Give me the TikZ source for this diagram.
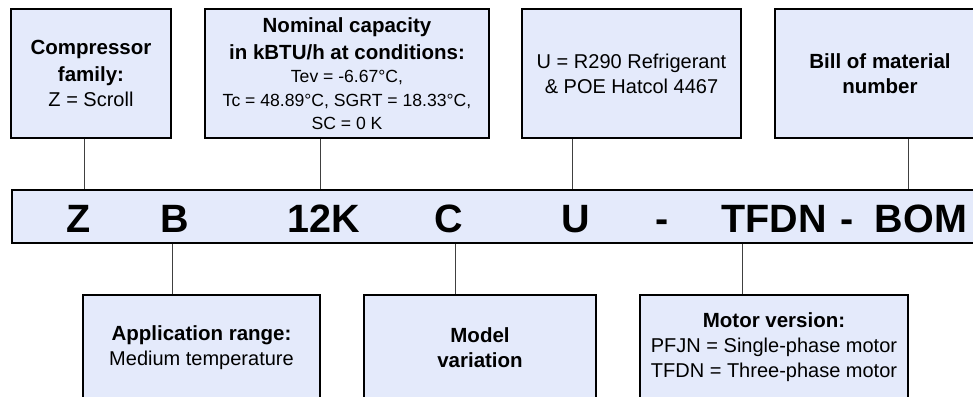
\documentclass[tikz,border=0pt]{standalone}
\usepackage{fontspec}
\setmainfont{Liberation Sans}
\definecolor{boxfill}{RGB}{228,234,251}
\newcommand\boldtxt{\fontsize{20.5}{25}\selectfont\bfseries}
\newcommand\regtxt{\fontsize{20}{25}\selectfont\mdseries}
\newcommand\smalltxt{\fontsize{17.6}{23.5}\selectfont\mdseries}
\newcommand\smallbold{\fontsize{20.5}{23.5}\selectfont\bfseries}
\tikzset{
  infobox/.style={draw=black, line width=1.8pt, fill=boxfill, align=center, inner sep=2pt, font=\regtxt},
  codetxt/.style={font=\fontsize{39.5}{40}\selectfont\bfseries, anchor=base, inner sep=0pt},
  link/.style={draw=black!75, line width=1pt},
}
\begin{document}
\begin{tikzpicture}[x=1pt,y=-1pt]
\useasboundingbox (0,0) rectangle (973,396);
\clip (0,0) rectangle (973,396);
\fill[white] (0,0) rectangle (973,396);

% connector positions
\coordinate (pZ) at (84,0);
\coordinate (pB) at (172,0);
\coordinate (pK) at (320,0);
\coordinate (pC) at (455,0);
\coordinate (pU) at (572,0);
\coordinate (pT) at (742,0);
\coordinate (pM) at (908,0);

% code bar
\node[infobox, minimum width=978pt, minimum height=53pt] (bar) at (501,216.5) {};
\node[codetxt] (cZ) at (79,232) {Z};
\node[codetxt] (cB) at (175,232) {B};
\node[codetxt] (cK) at (324,232) {12K};
\node[codetxt] (cC) at (449,232) {C};
\node[codetxt] (cU) at (576,232) {U};
\node[codetxt] (cD1) at (662,232) {-};
\node[codetxt] (cT) at (774,232) {TFDN};
\node[codetxt] (cD2) at (847,232) {-};
\node[codetxt] (cM) at (921,232) {BOM};

% top boxes
\node[infobox, minimum width=160pt, minimum height=129pt] (family) at (91,73.5)
  {\boldtxt Compressor\\[2pt] \boldtxt family:\\ Z = Scroll};
\node[infobox, font=\smalltxt, minimum width=284pt, minimum height=129pt] (capacity) at (347,73.5)
  {\smallbold Nominal capacity\\[3.5pt] \smallbold in kBTU/h at conditions:\\ Tev = -6.67°C,\\ Tc = 48.89°C, SGRT = 18.33°C,\\ SC = 0 K};
\node[infobox, minimum width=219pt, minimum height=129pt] (refrig) at (631.5,73.5)
  {U = R290 Refrigerant\\ \& POE Hatcol 4467};
\node[infobox, minimum width=210pt, minimum height=129pt] (bom) at (880,73.5)
  {\boldtxt Bill of material\\ \boldtxt number};

% bottom boxes
\node[infobox, minimum width=237pt, minimum height=105pt] (app) at (201.5,347.5)
  {\boldtxt Application range:\\ Medium temperature};
\node[infobox, minimum width=232pt, minimum height=105pt] (model) at (480,347.5)
  {\boldtxt Model\\ \boldtxt variation};
\node[infobox, minimum width=268pt, minimum height=105pt] (motor) at (774,347.5)
  {\boldtxt Motor version:\\ PFJN = Single-phase motor\\ TFDN = Three-phase motor};

% connectors
\draw[link] (pZ |- family.south) -- (pZ |- bar.north);
\draw[link] (pK |- capacity.south) -- (pK |- bar.north);
\draw[link] (pU |- refrig.south) -- (pU |- bar.north);
\draw[link] (pM |- bom.south) -- (pM |- bar.north);
\draw[link] (pB |- bar.south) -- (pB |- app.north);
\draw[link] (pC |- bar.south) -- (pC |- model.north);
\draw[link] (pT |- bar.south) -- (pT |- motor.north);
\end{tikzpicture}
\end{document}
